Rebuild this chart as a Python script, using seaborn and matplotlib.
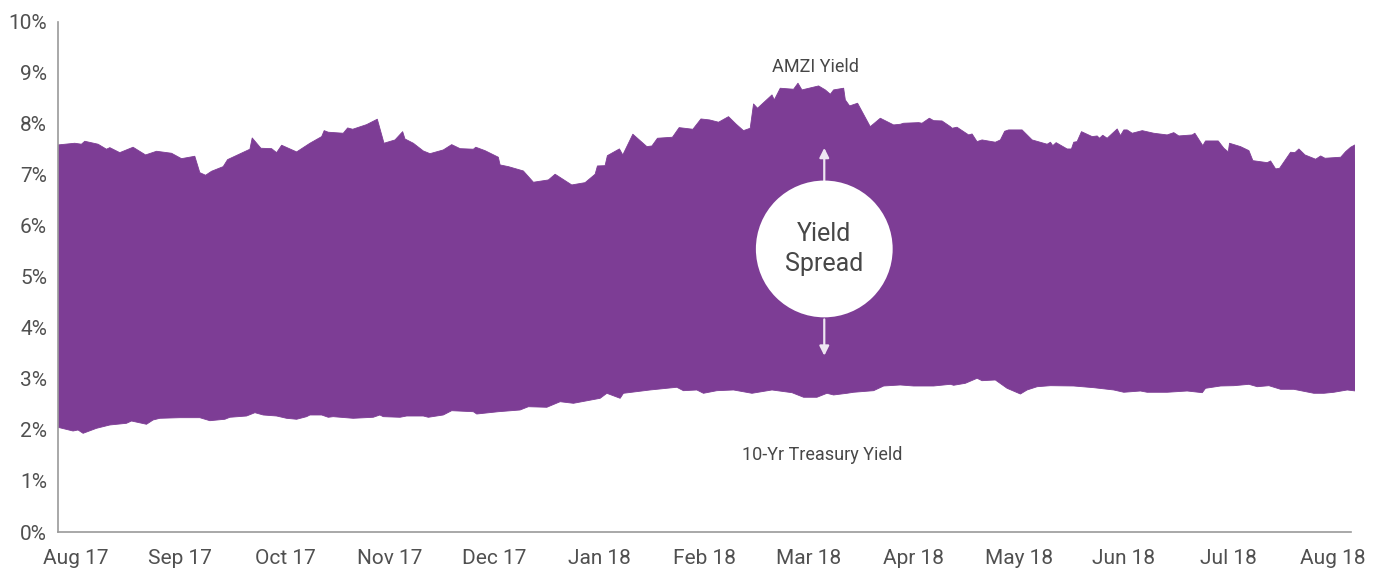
import numpy as np
import pandas as pd
import seaborn as sns
import matplotlib.pyplot as plt

# months since Aug 2017 and yields (%)
amzi_month = [-0.167, -0.008, 0.056, 0.088, 0.215, 0.295, 0.327, 0.422, 0.549, 0.668,
              0.773, 0.916, 1.011, 1.138, 1.186, 1.241, 1.298, 1.409, 1.451, 1.664,
              1.686, 1.769, 1.871, 1.919, 1.967, 2.110, 2.158, 2.237, 2.349, 2.373,
              2.412, 2.555, 2.597, 2.645, 2.778, 2.880, 2.944, 3.049, 3.122, 3.144,
              3.224, 3.319, 3.383, 3.510, 3.590, 3.670, 3.797, 3.820, 3.908, 4.035,
              4.052, 4.131, 4.274, 4.370, 4.513, 4.577, 4.736, 4.863, 4.959, 4.981,
              5.054, 5.076, 5.191, 5.223, 5.319, 5.453, 5.501, 5.554, 5.697, 5.761,
              5.892, 5.969, 6.051, 6.137, 6.232, 6.306, 6.375, 6.439, 6.471, 6.509,
              6.647, 6.669, 6.726, 6.853, 6.895, 6.933, 7.092, 7.156, 7.204, 7.235,
              7.331, 7.347, 7.388, 7.464, 7.585, 7.681, 7.808, 7.872, 7.903, 8.047,
              8.079, 8.149, 8.190, 8.270, 8.350, 8.366, 8.413, 8.524, 8.557, 8.604,
              8.652, 8.779, 8.827, 8.868, 8.906, 9.034, 9.130, 9.273, 9.305, 9.327,
              9.359, 9.464, 9.505, 9.527, 9.559, 9.601, 9.703, 9.751, 9.773, 9.804,
              9.846, 9.942, 9.973, 10.005, 10.037, 10.085, 10.181, 10.291, 10.419, 10.482,
              10.530, 10.658, 10.683, 10.759, 10.785, 10.906, 10.960, 11.002, 11.014, 11.119,
              11.199, 11.237, 11.374, 11.406, 11.454, 11.492, 11.597, 11.638, 11.676, 11.734,
              11.836, 11.884, 11.925, 12.075, 12.122, 12.170, 12.211]
amzi_yield = [7.584, 7.617, 7.598, 7.656, 7.598, 7.500, 7.531, 7.433, 7.539, 7.388,
              7.460, 7.421, 7.315, 7.362, 7.041, 6.990, 7.068, 7.159, 7.296, 7.500,
              7.721, 7.519, 7.511, 7.433, 7.578, 7.447, 7.511, 7.617, 7.747, 7.864,
              7.833, 7.813, 7.917, 7.891, 7.982, 8.088, 7.617, 7.682, 7.844, 7.701,
              7.617, 7.466, 7.413, 7.486, 7.590, 7.511, 7.500, 7.539, 7.472, 7.343,
              7.192, 7.159, 7.074, 6.853, 6.898, 7.010, 6.800, 6.845, 7.010, 7.172,
              7.178, 7.374, 7.506, 7.388, 7.794, 7.551, 7.564, 7.715, 7.735, 7.923,
              7.891, 8.093, 8.074, 8.029, 8.138, 7.989, 7.864, 7.911, 8.387, 8.303,
              8.564, 8.466, 8.695, 8.675, 8.793, 8.662, 8.740, 8.662, 8.577, 8.662,
              8.695, 8.466, 8.348, 8.401, 7.942, 8.107, 7.976, 7.989, 8.009, 8.021,
              8.009, 8.107, 8.060, 8.054, 7.942, 7.911, 7.931, 7.780, 7.799, 7.649,
              7.682, 7.637, 7.682, 7.852, 7.878, 7.878, 7.682, 7.598, 7.637, 7.570,
              7.629, 7.505, 7.505, 7.637, 7.649, 7.844, 7.747, 7.760, 7.715, 7.774,
              7.715, 7.897, 7.766, 7.878, 7.878, 7.813, 7.864, 7.813, 7.780, 7.825,
              7.760, 7.780, 7.813, 7.570, 7.662, 7.662, 7.519, 7.447, 7.617, 7.551,
              7.472, 7.276, 7.237, 7.270, 7.114, 7.127, 7.441, 7.433, 7.505, 7.388,
              7.304, 7.368, 7.323, 7.343, 7.452, 7.539, 7.584]

tsy_month = [-0.167, -0.024, 0.024, 0.072, 0.200, 0.327, 0.486, 0.534, 0.677, 0.740,
             0.804, 0.995, 1.186, 1.282, 1.425, 1.473, 1.632, 1.712, 1.791, 1.919,
             2.014, 2.110, 2.205, 2.237, 2.349, 2.412, 2.459, 2.650, 2.841, 2.905,
             2.937, 3.097, 3.160, 3.319, 3.367, 3.510, 3.590, 3.797, 3.829, 4.035,
             4.243, 4.322, 4.498, 4.625, 4.752, 5.007, 5.071, 5.198, 5.229, 5.484,
             5.739, 5.802, 5.930, 5.993, 6.121, 6.280, 6.456, 6.647, 6.838, 6.949,
             7.076, 7.172, 7.235, 7.363, 7.426, 7.617, 7.713, 7.872, 7.999, 8.190,
             8.350, 8.381, 8.493, 8.605, 8.652, 8.779, 8.891, 9.018, 9.082, 9.178,
             9.305, 9.527, 9.718, 9.909, 10.005, 10.164, 10.228, 10.419, 10.610, 10.754,
             10.785, 10.929, 11.056, 11.199, 11.279, 11.390, 11.502, 11.628, 11.819, 11.915,
             12.010, 12.138, 12.217]
tsy_yield = [2.051, 1.979, 1.999, 1.934, 2.032, 2.097, 2.130, 2.175, 2.111, 2.195,
             2.228, 2.240, 2.240, 2.181, 2.209, 2.248, 2.273, 2.338, 2.293, 2.273,
             2.228, 2.209, 2.260, 2.293, 2.293, 2.248, 2.260, 2.228, 2.248, 2.293,
             2.260, 2.248, 2.273, 2.273, 2.248, 2.293, 2.377, 2.357, 2.312, 2.357,
             2.391, 2.455, 2.444, 2.553, 2.522, 2.620, 2.718, 2.620, 2.718, 2.783,
             2.836, 2.769, 2.783, 2.718, 2.769, 2.783, 2.718, 2.783, 2.730, 2.640,
             2.640, 2.718, 2.685, 2.718, 2.738, 2.769, 2.861, 2.881, 2.861, 2.861,
             2.894, 2.875, 2.914, 3.012, 2.965, 2.979, 2.816, 2.704, 2.783, 2.847,
             2.867, 2.861, 2.828, 2.783, 2.738, 2.763, 2.738, 2.738, 2.763, 2.730,
             2.816, 2.861, 2.867, 2.894, 2.847, 2.867, 2.796, 2.796, 2.718, 2.718,
             2.738, 2.783, 2.763]

month_labels = ['Aug 17', 'Sep 17', 'Oct 17', 'Nov 17', 'Dec 17', 'Jan 18', 'Feb 18',
                'Mar 18', 'Apr 18', 'May 18', 'Jun 18', 'Jul 18', 'Aug 18']
y_ticks = list(range(0, 11))

purple = '#7d3d95'
grey_text = '#474747'

sns.set_style('white')
plt.rcParams['font.family'] = ['Roboto', 'DejaVu Sans']

amzi = pd.DataFrame({'month': amzi_month, 'yield': amzi_yield})
tsy = pd.DataFrame({'month': tsy_month, 'yield': tsy_yield})

fig = plt.figure(figsize=(13.76, 5.69), dpi=100)
ax = fig.add_axes([0.0422, 0.065, 0.9425, 0.897])

# spread area: AMZI on top, treasury below
ax.fill(np.concatenate([amzi['month'], tsy['month'][::-1]]),
        np.concatenate([amzi['yield'], tsy['yield'][::-1]]),
        color=purple, lw=0)
sns.lineplot(data=amzi, x='month', y='yield', ax=ax, color=purple, lw=0.6, sort=False)
sns.lineplot(data=tsy, x='month', y='yield', ax=ax, color=purple, lw=0.6, sort=False)

ax.set_xlim(amzi_month[0], amzi_month[-1])
ax.set_ylim(0, 10)
ax.set_xticks(range(len(month_labels)))
ax.set_xticklabels(month_labels)
ax.set_yticks(y_ticks)
ax.set_yticklabels([f'{t}%' for t in y_ticks])
ax.set_xlabel('')
ax.set_ylabel('')
ax.tick_params(axis='both', length=0, colors='#505050')
ax.tick_params(axis='x', labelsize=15, pad=12)
ax.tick_params(axis='y', labelsize=15, pad=8)

for side in ['top', 'right']:
    ax.spines[side].set_visible(False)
for side in ['left', 'bottom']:
    ax.spines[side].set_color('#9a9a9a')
    ax.spines[side].set_linewidth(1.2)
ax.spines['bottom'].set_bounds(amzi_month[0], 12.17)

ax.text(7.06, 9.11, 'AMZI Yield', ha='center', va='center', fontsize=13,
        color=grey_text)
ax.text(7.13, 1.51, '10-Yr Treasury Yield', ha='center', va='center', fontsize=13,
        color=grey_text)

# "Yield Spread" bubble with arrows
ax.scatter([7.146], [5.546], s=9700, color='white', edgecolor='none', zorder=5)
ax.text(7.146, 5.546, 'Yield\nSpread', ha='center', va='center', fontsize=18,
        color=grey_text, linespacing=1.3, zorder=6)
arrow = dict(arrowstyle='-|>', color='#eee6f2', lw=1.6, mutation_scale=14)
ax.annotate('', xy=(7.146, 7.58), xytext=(7.146, 6.78), arrowprops=arrow, zorder=4)
ax.annotate('', xy=(7.146, 3.40), xytext=(7.146, 4.22), arrowprops=arrow, zorder=4)

fig.savefig('out.png', dpi=100)
